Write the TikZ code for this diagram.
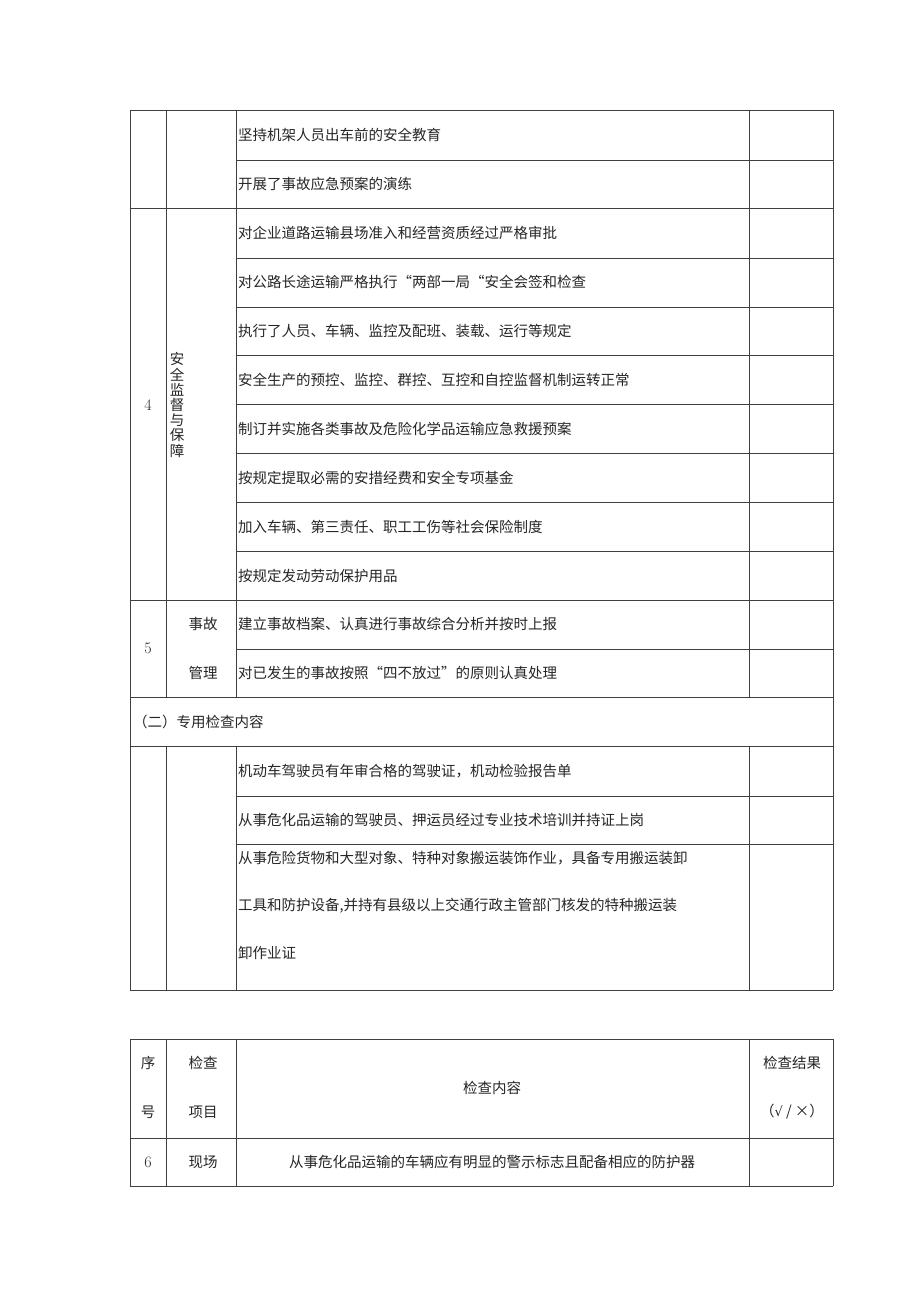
\documentclass[tikz,border=0pt]{standalone}
\usepackage{fontspec}
\newfontfamily\cjk{Noto Sans CJK SC}
\newfontfamily\symfont{DejaVu Sans}
\tikzset{
  rule/.style={draw=black!75, line width=0.9pt},
  txt/.style={font=\cjk\fontsize{14.5}{17}\selectfont, text=black!85, inner sep=0pt},
  lefttxt/.style={txt, anchor=west},
  num/.style={font=\fontsize{16}{18}\selectfont, text=black!85, inner sep=0pt}
}
\begin{document}
\begin{tikzpicture}[x=1pt,y=-1pt]
  \useasboundingbox[fill=white] (0,0) rectangle (920,1301);
  % first table: full-width rules
  \foreach \y in {110,208,600,697,746,990}
    \draw[rule] (130,\y) -- (833,\y);
  % rules only across content and result columns
  \foreach \y in {160,258,307,355,404,453,502,551,649,796,844}
    \draw[rule] (236,\y) -- (833,\y);
  \draw[rule] (130,110) -- (130,990);
  \draw[rule] (833,110) -- (833,990);
  \foreach \x in {166,236,749} {
    \draw[rule] (\x,110) -- (\x,697);
    \draw[rule] (\x,746) -- (\x,990);
  }
  % contents of first table
  \node[lefttxt] (r1) at (238,135) {坚持机架人员出车前的安全教育};
  \node[lefttxt] (r2) at (238,184) {开展了事故应急预案的演练};
  \node[lefttxt] (r3) at (238,233) {对企业道路运输县场准入和经营资质经过严格审批};
  \node[lefttxt] (r4) at (238,282) {对公路长途运输严格执行“两部一局“安全会签和检查};
  \node[lefttxt] (r5) at (238,331) {执行了人员、车辆、监控及配班、装载、运行等规定};
  \node[lefttxt] (r6) at (238,380) {安全生产的预控、监控、群控、互控和自控监督机制运转正常};
  \node[lefttxt] (r7) at (238,429) {制订并实施各类事故及危险化学品运输应急救援预案};
  \node[lefttxt] (r8) at (238,478) {按规定提取必需的安措经费和安全专项基金};
  \node[lefttxt] (r9) at (238,527) {加入车辆、第三责任、职工工伤等社会保险制度};
  \node[lefttxt] (r10) at (238,576) {按规定发动劳动保护用品};
  \node[num] (n4) at (148,405) {4};
  \node[txt, align=center, font=\cjk\fontsize{14.5}{15.2}\selectfont] (item4) at (177,405)
    {安\\全\\监\\督\\与\\保\\障};
  \node[num] (n5) at (148,648) {5};
  \node[txt] (item5a) at (203,624) {事故};
  \node[txt] (item5b) at (203,673) {管理};
  \node[lefttxt] (r11) at (238,624) {建立事故档案、认真进行事故综合分析并按时上报};
  \node[lefttxt] (r12) at (238,673) {对已发生的事故按照“四不放过”的原则认真处理};
  \node[lefttxt] (sec2) at (133,722) {（二）专用检查内容};
  \node[lefttxt] (r13) at (238,771) {机动车驾驶员有年审合格的驾驶证，机动检验报告单};
  \node[lefttxt] (r14) at (238,820) {从事危化品运输的驾驶员、押运员经过专业技术培训并持证上岗};
  \node[lefttxt] (r15a) at (238,858) {从事危险货物和大型对象、特种对象搬运装饰作业，具备专用搬运装卸};
  \node[lefttxt] (r15b) at (238,906) {工具和防护设备,并持有县级以上交通行政主管部门核发的特种搬运装};
  \node[lefttxt] (r15c) at (238,953) {卸作业证};
  % second table
  \foreach \y in {1039,1138,1186}
    \draw[rule] (130,\y) -- (833,\y);
  \foreach \x in {130,166,236,749,833}
    \draw[rule] (\x,1039) -- (\x,1186);
  \node[txt] (hno1) at (148,1063) {序};
  \node[txt] (hno2) at (148,1112) {号};
  \node[txt] (hitem1) at (203,1063) {检查};
  \node[txt] (hitem2) at (203,1112) {项目};
  \node[txt] (hcont) at (492,1088) {检查内容};
  \node[txt] (hres1) at (792,1063) {检查结果};
  \node[txt] (hres2) at (792,1112) {（{\symfont\fontsize{13}{15}\selectfont √} / ×）};
  \node[num] (n6) at (148,1162) {6};
  \node[txt] (item6) at (203,1162) {现场};
  \node[txt] (r16) at (492,1162) {从事危化品运输的车辆应有明显的警示标志且配备相应的防护器};
\end{tikzpicture}
\end{document}
